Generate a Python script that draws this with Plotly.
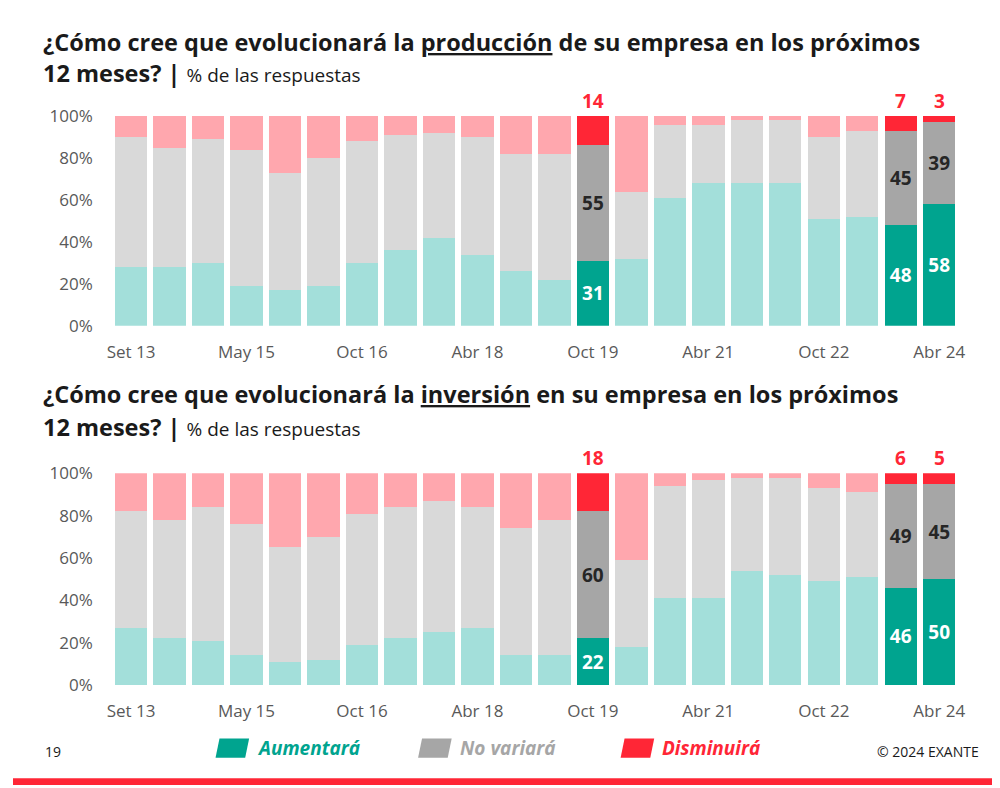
import plotly.graph_objects as go

cats = ["Set 13","Abr 14","Oct 14","May 15","Oct 15","Abr 16","Oct 16","Abr 17","Oct 17","Abr 18","Oct 18","Abr 19",
        "Oct 19","Abr 20","Oct 20","Abr 21","Oct 21","Abr 22","Oct 22","Abr 23","Oct 23","Abr 24"]
tick_labels = ["Set 13","May 15","Oct 16","Abr 18","Oct 19","Abr 21","Oct 22","Abr 24"]
y_ticks = [0, 20, 40, 60, 80, 100]
highlight = [12, 20, 21]

prod_up   = [28,28,30,19,17,19,30,36,42,34,26,22,31,32,61,68,68,68,51,52,48,58]
prod_same = [62,57,59,65,56,61,58,55,50,56,56,60,55,32,35,28,30,30,39,41,45,39]
prod_down = [10,15,11,16,27,20,12, 9, 8,10,18,18,14,36, 4, 4, 2, 2,10, 7, 7, 3]

inv_up    = [27,22,21,14,11,12,19,22,25,27,14,14,22,18,41,41,54,52,49,51,46,50]
inv_same  = [55,56,63,62,54,58,62,62,62,57,60,64,60,41,53,56,44,46,44,40,49,45]
inv_down  = [18,22,16,24,35,30,19,16,13,16,26,22,18,41, 6, 3, 2, 2, 7, 9, 6, 5]

light = {"up":"#A3DFDA","same":"#D9D9D9","down":"#FFA7AE"}
dark = {"up":"#00A48F","same":"#A6A6A6","down":"#FF2636"}
FONT = "Open Sans"
OFF = 12

fig = go.Figure()

def add(vals, key, ax, textcolor):
    colors = [dark[key] if i in highlight else light[key] for i in range(len(cats))]
    texts = [str(v) if (i in highlight and key != "down") else "" for i, v in enumerate(vals)]
    fig.add_trace(go.Bar(x=cats, y=vals, marker=dict(color=colors, line=dict(width=0)),
                         text=texts, textposition="inside", insidetextanchor="middle",
                         textfont=dict(color=textcolor, size=19, family=FONT, weight="bold"),
                         xaxis="x"+ax, yaxis="y"+ax, showlegend=False, width=0.84))
    if key == "down":
        for i in highlight:
            fig.add_annotation(x=cats[i], y=100, xref="x"+ax, yref="y"+ax, yanchor="bottom",
                               showarrow=False, text=f"<b>{vals[i]}</b>",
                               font=dict(family=FONT, size=19, color=dark["down"]))

for ax, (u, s, d) in [("", (prod_up, prod_same, prod_down)), ("2", (inv_up, inv_same, inv_down))]:
    add(u, "up", ax, "white")
    add(s, "same", ax, "#262626")
    add(d, "down", ax, None)

tick = dict(family=FONT, size=17, color="#595959")
xcommon = dict(tickmode="array", tickvals=tick_labels, ticktext=tick_labels, tickfont=tick,
               showgrid=False, showline=False, ticks="", domain=[0.1, 0.957], ticklabelstandoff=14,
               categoryorder="array", categoryarray=cats)
ycommon = dict(range=[0, 100], tickmode="array", tickvals=y_ticks, ticktext=[f"{v}%" for v in y_ticks],
               tickfont=tick, showgrid=False, zeroline=False, showline=False, ticklabelstandoff=18)

def py(px):
    return 1 - (px - OFF) / 788

fig.update_layout(
    width=1000, height=788, barmode="stack",
    margin=dict(l=0, r=0, t=0, b=0), plot_bgcolor="white", paper_bgcolor="white",
    xaxis=dict(**xcommon, anchor="y"),
    yaxis=dict(**ycommon, domain=[py(327), py(111)], anchor="x"),
    xaxis2=dict(**xcommon, anchor="y2"),
    yaxis2=dict(**ycommon, domain=[py(697), py(479)], anchor="x2"),
)

def title(y1, y2, word, rest):
    fig.add_annotation(x=0.028, y=py(y1), xref="paper", yref="paper", xanchor="left", yanchor="middle",
                       showarrow=False, font=dict(family=FONT, size=23.5, color="#1a1a1a"),
                       text=f"<b>¿Cómo cree que evolucionará la <u>{word}</u> {rest}</b>")
    fig.add_annotation(x=0.028, y=py(y2), xref="paper", yref="paper", xanchor="left", yanchor="middle",
                       showarrow=False, font=dict(family=FONT, size=23.5, color="#1a1a1a"),
                       text="<b>12 meses? |</b> <span style='font-size:19px'>% de las respuestas</span>")

title(35, 67, "producción", "de su empresa en los próximos")
title(397, 431, "inversión", "en su empresa en los próximos")

leg = [("Aumentará", dark["up"], 0.205), ("No variará", dark["same"], 0.41), ("Disminuirá", dark["down"], 0.615)]
LY = 762
for name, col, x in leg:
    fig.add_shape(type="path", xref="paper", yref="paper",
                  path=f"M {x:.3f} {py(LY+10):.4f} L {x+0.03:.3f} {py(LY+10):.4f} L {x+0.034:.3f} {py(LY-10):.4f} L {x+0.004:.3f} {py(LY-10):.4f} Z",
                  fillcolor=col, line=dict(width=0))
    fig.add_annotation(x=x+0.04, y=py(LY), xref="paper", yref="paper", xanchor="left", yanchor="middle",
                       showarrow=False, text=f"<b><i>{name}</i></b>",
                       font=dict(family=FONT, size=19, color=col))

fig.add_annotation(x=0.03, y=py(LY+4), xref="paper", yref="paper", xanchor="left", yanchor="middle",
                   showarrow=False, text="19", font=dict(family=FONT, size=14, color="#1a1a1a"))
fig.add_annotation(x=0.98, y=py(LY+4), xref="paper", yref="paper", xanchor="right", yanchor="middle",
                   showarrow=False, text="© 2024 EXANTE", font=dict(family=FONT, size=14, color="#1a1a1a"))
fig.add_shape(type="rect", xref="paper", yref="paper", x0=0, x1=1, y0=0, y1=7/788,
              fillcolor="#FF2636", line=dict(width=0))

fig.write_html("out.html")
